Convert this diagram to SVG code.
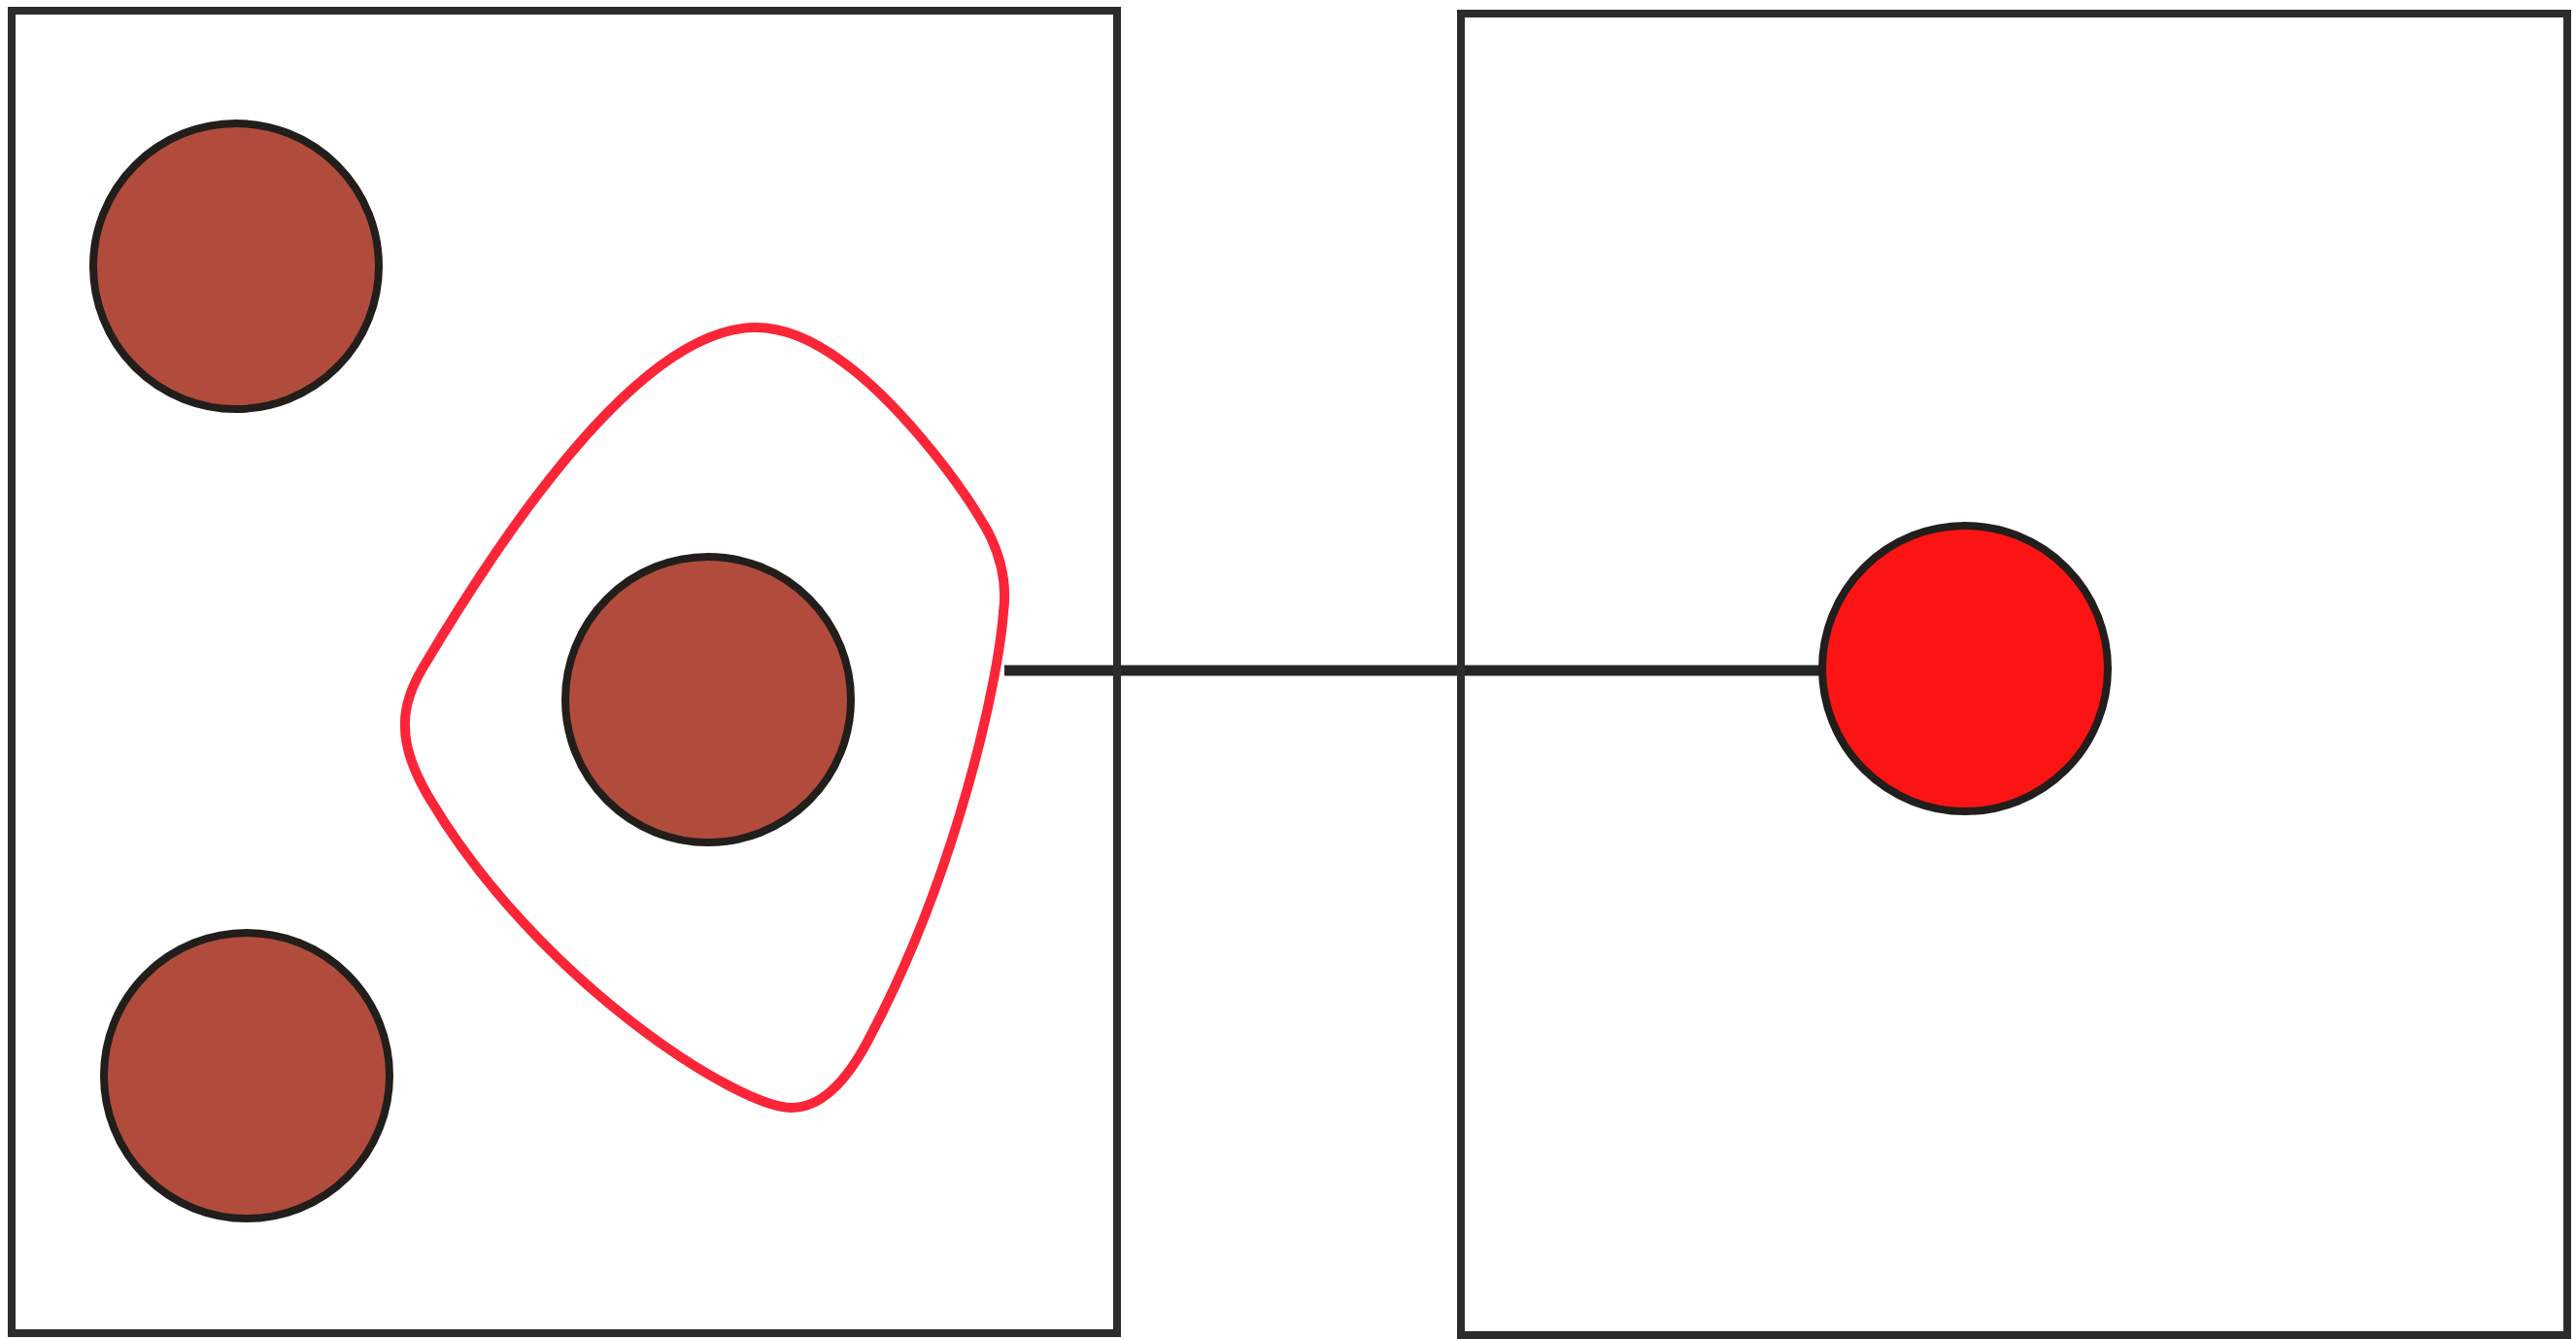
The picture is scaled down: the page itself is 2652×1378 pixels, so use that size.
<svg xmlns="http://www.w3.org/2000/svg" width="2652" height="1378" viewBox="0 0 2652 1378">
<style>
.box{fill:none;stroke:#2c2c2c;stroke-width:8}
.dot{fill:#b14c3c;stroke:#221e1c;stroke-width:8}
.hot{fill:#fc1414;stroke:#221e1c;stroke-width:8}
.blob{fill:none;stroke:#fa2638;stroke-width:10}
.link{stroke:#252525;stroke-width:11;fill:none}
</style>
<rect width="2652" height="1378" fill="#ffffff"/>
<g id="connectors">
<line class="link" x1="1034" y1="690" x2="1876" y2="690"/>
</g>
<g id="box-left"><rect class="box" x="12" y="11" width="1138" height="1361"/></g>
<g id="box-right"><rect class="box" x="1504" y="14" width="1139" height="1360"/></g>
<g id="region"><path class="blob" d="M 417 748 C 416 728 424 706 436 686 C 520 545 660 337 778 337 C 810 337 840 352 867 372 C 920 410 985 490 1017 547 C 1030 572 1037 600 1033 630 C 1028 700 985 900 893 1072 C 870 1115 845 1140 815 1140 C 760 1140 555 1010 443 823 C 428 798 417 772 417 748 Z"/></g>
<g id="node-a"><circle class="dot" cx="243" cy="274" r="147"/></g>
<g id="node-b"><circle class="dot" cx="729" cy="720" r="147"/></g>
<g id="node-c"><circle class="dot" cx="254" cy="1107" r="147"/></g>
<g id="node-d"><circle class="hot" cx="2023" cy="688" r="147"/></g>
</svg>
